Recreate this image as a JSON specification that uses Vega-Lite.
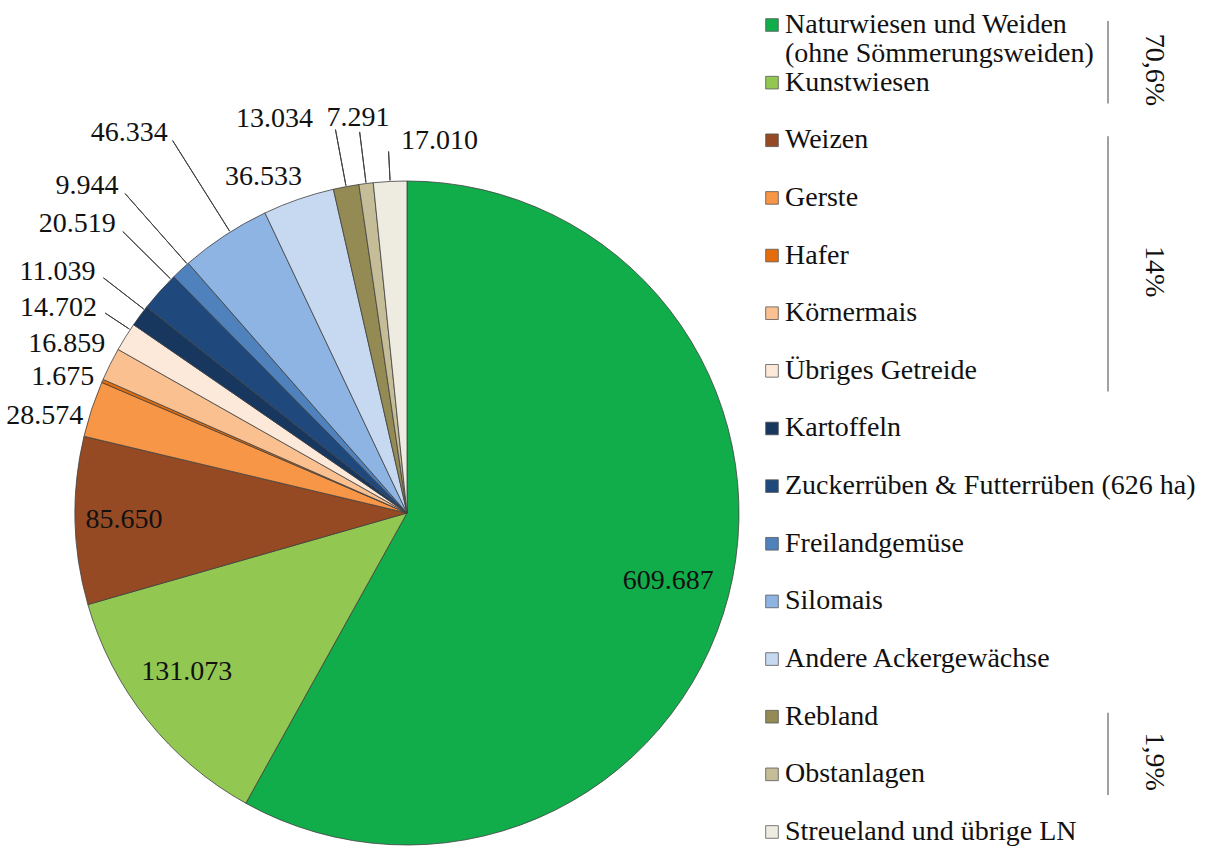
{
  "$schema": "https://vega.github.io/schema/vega-lite/v6.json",
  "width": 1205,
  "height": 848,
  "autosize": {"type": "fit", "contains": "padding"},
  "padding": 0,
  "background": "white",
  "config": {
    "view": {"stroke": null},
    "locale": {"number": {"decimal": ",", "thousands": ".", "grouping": [3], "currency": ["", ""]}},
    "text": {"font": "Liberation Serif", "fontSize": 28, "color": "#111111"}
  },
  "data": {
    "values": [
      {"nr": 1, "kat": "Naturwiesen und Weiden", "zusatz": "(ohne Sömmerungsweiden)", "ha": 609687},
      {"nr": 2, "kat": "Kunstwiesen", "ha": 131073},
      {"nr": 3, "kat": "Weizen", "ha": 85650},
      {"nr": 4, "kat": "Gerste", "ha": 28574},
      {"nr": 5, "kat": "Hafer", "ha": 1675},
      {"nr": 6, "kat": "Körnermais", "ha": 16859},
      {"nr": 7, "kat": "Übriges Getreide", "ha": 14702},
      {"nr": 8, "kat": "Kartoffeln", "ha": 11039},
      {"nr": 9, "kat": "Zuckerrüben & Futterrüben (626 ha)", "ha": 20519},
      {"nr": 10, "kat": "Freilandgemüse", "ha": 9944},
      {"nr": 11, "kat": "Silomais", "ha": 46334},
      {"nr": 12, "kat": "Andere Ackergewächse", "ha": 36533},
      {"nr": 13, "kat": "Rebland", "ha": 13034},
      {"nr": 14, "kat": "Obstanlagen", "ha": 7291},
      {"nr": 15, "kat": "Streueland und übrige LN", "ha": 17010}
    ]
  },
  "transform": [
    {"stack": "ha", "groupby": [], "sort": [{"field": "nr", "order": "ascending"}], "as": ["t0", "t1"]},
    {"calculate": "(datum.t0 + datum.t1) / 2", "as": "mid"}
  ],
  "layer": [
    {
      "mark": {"type": "arc", "x": 407, "y": 513, "radius": 332, "stroke": "#404040", "strokeWidth": 0.8},
      "encoding": {
        "theta": {"field": "t0", "type": "quantitative", "stack": null, "scale": {"domain": [0, 1049924], "zero": true, "nice": false}},
        "theta2": {"field": "t1"},
        "color": {
          "field": "kat", "type": "nominal", "legend": null,
          "scale": {
            "domain": ["Naturwiesen und Weiden", "Kunstwiesen", "Weizen", "Gerste", "Hafer", "Körnermais", "Übriges Getreide", "Kartoffeln", "Zuckerrüben & Futterrüben (626 ha)", "Freilandgemüse", "Silomais", "Andere Ackergewächse", "Rebland", "Obstanlagen", "Streueland und übrige LN"],
            "range": ["#12AD4B", "#92C851", "#954A24", "#F79646", "#E46C0A", "#FAC090", "#FDE9D9", "#17375E", "#1F497D", "#4F81BD", "#8EB4E3", "#C6D9F1", "#948A54", "#C4BD97", "#EEECE1"]
          }
        }
      }
    },
    {"transform": [{"filter": "datum.nr === 7"}], "mark": {"type": "arc", "x": 407, "y": 513, "radius": 362, "radius2": 333, "thetaOffset": 0.026, "theta2Offset": 0.026, "padAngle": 1.5, "fillOpacity": 0, "stroke": "#404040", "strokeWidth": 1}, "encoding": {"theta": {"field": "t0", "type": "quantitative", "stack": null}, "theta2": {"field": "t1"}}},
    {"transform": [{"filter": "datum.nr === 8"}], "mark": {"type": "arc", "x": 407, "y": 513, "radius": 384, "radius2": 333, "thetaOffset": 0.023, "theta2Offset": 0.023, "padAngle": 1.5, "fillOpacity": 0, "stroke": "#404040", "strokeWidth": 1}, "encoding": {"theta": {"field": "t0", "type": "quantitative", "stack": null}, "theta2": {"field": "t1"}}},
    {"transform": [{"filter": "datum.nr === 9"}], "mark": {"type": "arc", "x": 407, "y": 513, "radius": 400, "radius2": 333, "thetaOffset": 0.05, "theta2Offset": 0.05, "padAngle": 1.5, "fillOpacity": 0, "stroke": "#404040", "strokeWidth": 1}, "encoding": {"theta": {"field": "t0", "type": "quantitative", "stack": null}, "theta2": {"field": "t1"}}},
    {"transform": [{"filter": "datum.nr === 10"}], "mark": {"type": "arc", "x": 407, "y": 513, "radius": 426, "radius2": 333, "thetaOffset": 0.026, "theta2Offset": 0.026, "padAngle": 1.5, "fillOpacity": 0, "stroke": "#404040", "strokeWidth": 1}, "encoding": {"theta": {"field": "t0", "type": "quantitative", "stack": null}, "theta2": {"field": "t1"}}},
    {"transform": [{"filter": "datum.nr === 11"}], "mark": {"type": "arc", "x": 407, "y": 513, "radius": 440, "radius2": 333, "thetaOffset": 0.019, "theta2Offset": 0.019, "padAngle": 1.5, "fillOpacity": 0, "stroke": "#404040", "strokeWidth": 1}, "encoding": {"theta": {"field": "t0", "type": "quantitative", "stack": null}, "theta2": {"field": "t1"}}},
    {"transform": [{"filter": "datum.nr === 13"}], "mark": {"type": "arc", "x": 407, "y": 513, "radius": 390, "radius2": 333, "padAngle": 1.5, "fillOpacity": 0, "stroke": "#404040", "strokeWidth": 1}, "encoding": {"theta": {"field": "t0", "type": "quantitative", "stack": null}, "theta2": {"field": "t1"}}},
    {"transform": [{"filter": "datum.nr === 14"}], "mark": {"type": "arc", "x": 407, "y": 513, "radius": 384, "radius2": 333, "padAngle": 1.5, "fillOpacity": 0, "stroke": "#404040", "strokeWidth": 1}, "encoding": {"theta": {"field": "t0", "type": "quantitative", "stack": null}, "theta2": {"field": "t1"}}},
    {"transform": [{"filter": "datum.nr === 15"}], "mark": {"type": "arc", "x": 407, "y": 513, "radius": 362, "radius2": 333, "padAngle": 1.5, "fillOpacity": 0, "stroke": "#404040", "strokeWidth": 1}, "encoding": {"theta": {"field": "t0", "type": "quantitative", "stack": null}, "theta2": {"field": "t1"}}},
    {"transform": [{"filter": "datum.nr === 1"}], "mark": {"type": "text", "x": 407, "y": 513, "radius": 270, "align": "center", "baseline": "middle"}, "encoding": {"theta": {"field": "mid", "type": "quantitative", "stack": null}, "text": {"field": "ha", "type": "quantitative", "format": ",d"}}},
    {"transform": [{"filter": "datum.nr === 2"}], "mark": {"type": "text", "x": 407, "y": 513, "radius": 272, "thetaOffset": 0.045, "align": "center", "baseline": "middle"}, "encoding": {"theta": {"field": "mid", "type": "quantitative", "stack": null}, "text": {"field": "ha", "type": "quantitative", "format": ",d"}}},
    {"transform": [{"filter": "datum.nr === 3"}], "mark": {"type": "text", "x": 407, "y": 513, "radius": 283, "align": "center", "baseline": "middle"}, "encoding": {"theta": {"field": "mid", "type": "quantitative", "stack": null}, "text": {"field": "ha", "type": "quantitative", "format": ",d"}}},
    {"transform": [{"filter": "datum.nr === 4"}], "mark": {"type": "text", "x": 407, "y": 513, "radius": 338, "thetaOffset": -0.027, "align": "right", "baseline": "middle"}, "encoding": {"theta": {"field": "mid", "type": "quantitative", "stack": null}, "text": {"field": "ha", "type": "quantitative", "format": ",d"}}},
    {"transform": [{"filter": "datum.nr === 5"}], "mark": {"type": "text", "x": 407, "y": 513, "radius": 341, "align": "right", "baseline": "middle"}, "encoding": {"theta": {"field": "mid", "type": "quantitative", "stack": null}, "text": {"field": "ha", "type": "quantitative", "format": ",d"}}},
    {"transform": [{"filter": "datum.nr === 6"}], "mark": {"type": "text", "x": 407, "y": 513, "radius": 346, "thetaOffset": 0.046, "align": "right", "baseline": "middle"}, "encoding": {"theta": {"field": "mid", "type": "quantitative", "stack": null}, "text": {"field": "ha", "type": "quantitative", "format": ",d"}}},
    {"transform": [{"filter": "datum.nr === 7"}], "mark": {"type": "text", "x": 407, "y": 513, "radius": 372, "thetaOffset": 0.026, "align": "right", "baseline": "middle"}, "encoding": {"theta": {"field": "mid", "type": "quantitative", "stack": null}, "text": {"field": "ha", "type": "quantitative", "format": ",d"}}},
    {"transform": [{"filter": "datum.nr === 8"}], "mark": {"type": "text", "x": 407, "y": 513, "radius": 394, "thetaOffset": 0.023, "align": "right", "baseline": "middle"}, "encoding": {"theta": {"field": "mid", "type": "quantitative", "stack": null}, "text": {"field": "ha", "type": "quantitative", "format": ",d"}}},
    {"transform": [{"filter": "datum.nr === 9"}], "mark": {"type": "text", "x": 407, "y": 513, "radius": 410, "thetaOffset": 0.05, "align": "right", "baseline": "middle"}, "encoding": {"theta": {"field": "mid", "type": "quantitative", "stack": null}, "text": {"field": "ha", "type": "quantitative", "format": ",d"}}},
    {"transform": [{"filter": "datum.nr === 10"}], "mark": {"type": "text", "x": 407, "y": 513, "radius": 436, "thetaOffset": 0.026, "align": "right", "baseline": "middle"}, "encoding": {"theta": {"field": "mid", "type": "quantitative", "stack": null}, "text": {"field": "ha", "type": "quantitative", "format": ",d"}}},
    {"transform": [{"filter": "datum.nr === 11"}], "mark": {"type": "text", "x": 407, "y": 513, "radius": 449, "thetaOffset": 0.019, "align": "right", "baseline": "middle"}, "encoding": {"theta": {"field": "mid", "type": "quantitative", "stack": null}, "text": {"field": "ha", "type": "quantitative", "format": ",d"}}},
    {"transform": [{"filter": "datum.nr === 12"}], "mark": {"type": "text", "x": 407, "y": 513, "radius": 352, "thetaOffset": 0.03, "align": "right", "baseline": "middle"}, "encoding": {"theta": {"field": "mid", "type": "quantitative", "stack": null}, "text": {"field": "ha", "type": "quantitative", "format": ",d"}}},
    {"transform": [{"filter": "datum.nr === 13"}], "mark": {"type": "text", "x": 407, "y": 513, "radius": 405, "thetaOffset": -0.05, "align": "right", "baseline": "middle"}, "encoding": {"theta": {"field": "mid", "type": "quantitative", "stack": null}, "text": {"field": "ha", "type": "quantitative", "format": ",d"}}},
    {"transform": [{"filter": "datum.nr === 14"}], "mark": {"type": "text", "x": 407, "y": 513, "radius": 398, "align": "center", "baseline": "middle"}, "encoding": {"theta": {"field": "mid", "type": "quantitative", "stack": null}, "text": {"field": "ha", "type": "quantitative", "format": ",d"}}},
    {"transform": [{"filter": "datum.nr === 15"}], "mark": {"type": "text", "x": 407, "y": 513, "radius": 372, "thetaOffset": 0.035, "align": "left", "baseline": "middle"}, "encoding": {"theta": {"field": "mid", "type": "quantitative", "stack": null}, "text": {"field": "ha", "type": "quantitative", "format": ",d"}}},
    {
      "mark": {"type": "square", "x": 772, "size": 160, "filled": true, "opacity": 1, "stroke": "#595959", "strokeWidth": 0.8},
      "encoding": {
        "y": {"field": "nr", "type": "quantitative", "axis": null, "scale": {"domain": [0.5663, 15.278], "reverse": true, "nice": false, "zero": false}},
        "color": {"field": "kat", "type": "nominal", "legend": null}
      }
    },
    {
      "mark": {"type": "text", "x": 785, "align": "left", "baseline": "middle"},
      "encoding": {
        "y": {"field": "nr", "type": "quantitative"},
        "text": {"field": "kat", "type": "nominal"}
      }
    },
    {
      "transform": [{"filter": "isValid(datum.zusatz)"}],
      "mark": {"type": "text", "x": 785, "dy": 29, "align": "left", "baseline": "middle"},
      "encoding": {
        "y": {"field": "nr", "type": "quantitative"},
        "text": {"field": "zusatz", "type": "nominal"}
      }
    },
    {
      "data": {"values": [
        {"txt": "70,6%", "von": 1, "bis": 2},
        {"txt": "14%", "von": 3, "bis": 7},
        {"txt": "1,9%", "von": 13, "bis": 14}
      ]},
      "transform": [
        {"calculate": "datum.von - 0.07", "as": "a"},
        {"calculate": "datum.bis + 0.36", "as": "b"},
        {"calculate": "(datum.von + datum.bis) / 2 + 0.28", "as": "m"}
      ],
      "layer": [
        {
          "mark": {"type": "rule", "x": 1108, "stroke": "#808080", "strokeWidth": 1.5},
          "encoding": {
            "y": {"field": "a", "type": "quantitative"},
            "y2": {"field": "b"}
          }
        },
        {
          "mark": {"type": "text", "x": 1154, "angle": 90, "align": "center", "baseline": "middle"},
          "encoding": {
            "y": {"field": "m", "type": "quantitative"},
            "text": {"field": "txt", "type": "nominal"}
          }
        }
      ]
    }
  ]
}
